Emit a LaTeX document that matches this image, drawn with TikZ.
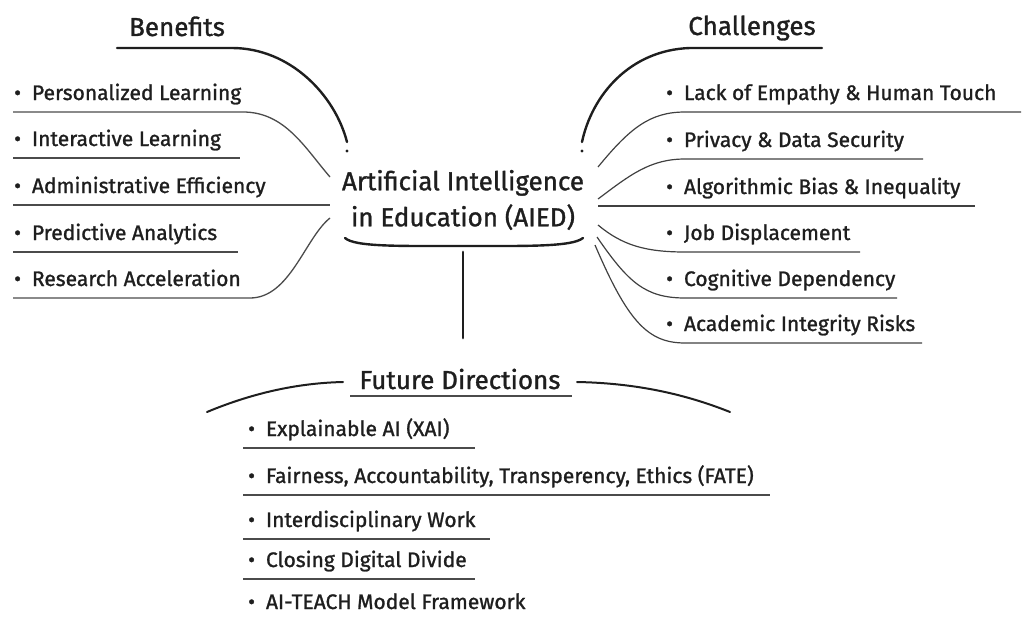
\documentclass[tikz,border=0pt]{standalone}
\usepackage{fontspec}
\setmainfont{Fira Sans}[FakeBold=1.2]
\definecolor{ink}{HTML}{1E1E1E}
\begin{document}
\begin{tikzpicture}[x=1pt,y=-1pt,
  txt/.style={inner sep=0pt, text=ink},
  item/.style={txt, anchor=base west, font=\fontsize{21}{24}\selectfont},
  head/.style={txt, anchor=base, font=\fontsize{26}{30}\selectfont},
  hub/.style={txt, align=center, font=\fontsize{26}{36}\selectfont},
  rule/.style={draw=ink!80, line width=1.3pt},
  branch/.style={draw=ink!85, line width=1.2pt},
  stem/.style={draw=ink, line width=2.8pt, line cap=round},
  tip/.style={fill=ink, draw=none},
]
\useasboundingbox (0,0) rectangle (1023,618);

% ---------- central topic ----------
\node[hub] (aied) at (463,200) {Artificial Intelligence\\in Education (AIED)};
\coordinate (hubL) at (345,238);
\coordinate (hubR) at (583,238);
\coordinate (hubB) at (463,252);
\coordinate (futTop) at (463,338);
\draw[stem, line width=2.4pt] (hubL) .. controls (355,247) and (400,246) .. (463,246)
      .. controls (526,246) and (572,247) .. (hubR);
\draw[stem] (hubB) -- (futTop);

% ---------- Benefits ----------
\node[head] (ben) at (177,36) {Benefits};
\coordinate (benU) at (117,48);
\coordinate (benE) at (347,142);
\draw[stem, line width=2.4pt] (benU) -- (232,48) .. controls (290,48) and (335,95) .. (benE);
\fill[tip] (347,151) circle (1.7pt);

\node[item] (b1) at (14,100) {\textbullet\hspace{11pt}Personalized Learning};
\node[item] (b2) at (14,146) {\textbullet\hspace{11pt}Interactive Learning};
\node[item] (b3) at (14,193) {\textbullet\hspace{11pt}Administrative Efficiency};
\node[item] (b4) at (14,240) {\textbullet\hspace{11pt}Predictive Analytics};
\node[item] (b5) at (14,286) {\textbullet\hspace{11pt}Research Acceleration};

\coordinate (bA) at (330,177);
\coordinate (bB) at (330,218);
\draw[rule] (13,112) -- (243,112) .. controls (285,112) and (305,148) .. (bA);
\draw[rule] (13,158) -- (240,158);
\draw[rule] (13,205) -- (330,205);
\draw[rule] (13,252) -- (238,252);
\draw[rule] (13,298) -- (250,298) .. controls (290,298) and (305,238) .. (bB);

% ---------- Challenges ----------
\node[head] (cha) at (752,35) {Challenges};
\coordinate (chaU) at (822,48);
\coordinate (chaE) at (582,142);
\draw[stem, line width=2.4pt] (chaU) -- (690,48) .. controls (630,50) and (592,95) .. (chaE);
\fill[tip] (582,151) circle (1.7pt);

\node[item] (c1) at (666,100) {\textbullet\hspace{11pt}Lack of Empathy \& Human Touch};
\node[item] (c2) at (666,147) {\textbullet\hspace{11pt}Privacy \& Data Security};
\node[item] (c3) at (666,194) {\textbullet\hspace{11pt}Algorithmic Bias \& Inequality};
\node[item] (c4) at (666,240) {\textbullet\hspace{11pt}Job Displacement};
\node[item] (c5) at (666,286) {\textbullet\hspace{11pt}Cognitive Dependency};
\node[item] (c6) at (666,331) {\textbullet\hspace{11pt}Academic Integrity Risks};

\coordinate (cA) at (598,167);
\coordinate (cB) at (598,199);
\coordinate (cC) at (598,206);
\coordinate (cD) at (598,225);
\coordinate (cE) at (597,237);
\coordinate (cF) at (595,245);
\draw[branch] (cA) .. controls (630,128) and (650,112) .. (685,112) -- (1021,112);
\draw[branch] (cB) .. controls (630,175) and (650,159) .. (685,159) -- (923,159);
\draw[branch] (cC) -- (975,206);
\draw[branch] (cD) .. controls (622,245) and (645,252) .. (685,252) -- (860,252);
\draw[branch] (cE) .. controls (628,282) and (645,298) .. (685,298) -- (897,298);
\draw[branch] (cF) .. controls (628,322) and (648,343) .. (685,343) -- (922,343);

% ---------- Future Directions ----------
\node[head] (fut) at (460,389) {Future Directions};
\coordinate (futL) at (207,412);
\coordinate (futR) at (730,412);
\draw[stem, line width=2pt] (futL) .. controls (255,392) and (300,383) .. (343,382);
\draw[stem, line width=2pt] (577,382) .. controls (630,383) and (680,392) .. (futR);
\draw[rule] (350,396) -- (572,396);

\node[item] (f1) at (248,436) {\textbullet\hspace{11pt}Explainable AI (XAI)};
\node[item] (f2) at (248,483) {\textbullet\hspace{11pt}Fairness, Accountability, Transperency, Ethics (FATE)};
\node[item] (f3) at (248,527) {\textbullet\hspace{11pt}Interdisciplinary Work};
\node[item] (f4) at (248,567) {\textbullet\hspace{11pt}Closing Digital Divide};
\node[item] (f5) at (248,609) {\textbullet\hspace{11pt}AI-TEACH Model Framework};

\draw[rule] (243,448) -- (475,448);
\draw[rule] (243,495) -- (770,495);
\draw[rule] (243,539) -- (490,539);
\draw[rule] (243,579) -- (475,579);
\end{tikzpicture}
\end{document}
